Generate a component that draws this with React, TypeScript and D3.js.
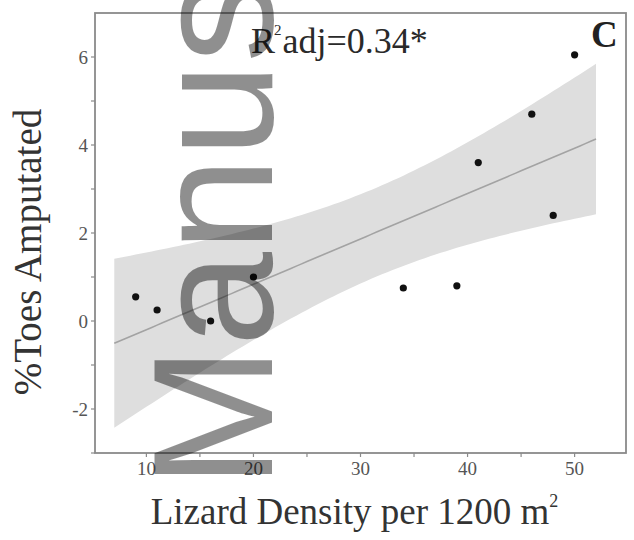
import * as d3 from "d3";

// lizard density per 1200 m^2 (x) and % toes amputated (y)
const density = [9, 11, 16, 20, 34, 39, 41, 46, 48, 50];
const toesAmputated = [0.55, 0.25, 0.0, 1.0, 0.75, 0.8, 3.6, 4.7, 2.4, 6.05];

const xTicks = [10, 20, 30, 40, 50];
const xMinorTicks = [15, 25, 35, 45];
const yTicks = [-2, 0, 2, 4, 6];
const yMinorTicks = [-3, -1, 1, 3, 5];

// fitted line range and t(0.975, df = 8) for the 95% band
const fitRange = [7, 52];
const tCrit = 2.306;

const W = 634;
const H = 540;
const margin = { top: 13, right: 8, bottom: 87, left: 95 };

const serif = "'Liberation Serif', 'DejaVu Serif', serif";

function linearFit(xs: number[], ys: number[]) {
  const n = xs.length;
  const mx = d3.mean(xs)!;
  const my = d3.mean(ys)!;
  const sxx = d3.sum(xs, (x) => (x - mx) ** 2);
  const sxy = d3.sum(xs, (x, i) => (x - mx) * (ys[i] - my));
  const slope = sxy / sxx;
  const intercept = my - slope * mx;
  const sse = d3.sum(xs, (x, i) => (ys[i] - (intercept + slope * x)) ** 2);
  const s = Math.sqrt(sse / (n - 2));
  return (x: number) => {
    const fit = intercept + slope * x;
    const half = tCrit * s * Math.sqrt(1 / n + (x - mx) ** 2 / sxx);
    return { x, fit, lo: fit - half, hi: fit + half };
  };
}

export default function App() {
  const x = d3
    .scaleLinear()
    .domain([5.2, 54.8])
    .range([margin.left, W - margin.right]);
  const y = d3
    .scaleLinear()
    .domain([-3.0, 7.0])
    .range([H - margin.bottom, margin.top]);

  const predict = linearFit(density, toesAmputated);
  const grid = d3.range(fitRange[0], fitRange[1] + 0.001, 0.5).map(predict);

  const band = d3
    .area<any>()
    .x((d) => x(d.x))
    .y0((d) => y(d.lo))
    .y1((d) => y(d.hi))(grid);
  const line = d3
    .line<any>()
    .x((d) => x(d.x))
    .y((d) => y(d.fit))(grid);

  const [x0, x1] = x.range();
  const [y0, y1] = y.range();
  const axisColor = "#8a8a8a";
  const labelColor = "#555";

  return (
    <svg
      width={W}
      height={H}
      style={{ position: "absolute", left: 0, top: 0, background: "#fff" }}
    >
      <path d={band!} fill="#dedede" />
      <path d={line!} fill="none" stroke="#a3a3a3" strokeWidth={1.6} />

      {density.map((d, i) => (
        <circle key={i} cx={x(d)} cy={y(toesAmputated[i])} r={3.6} fill="#111" />
      ))}

      {/* frame */}
      <rect
        x={x0}
        y={y1}
        width={x1 - x0}
        height={y0 - y1}
        fill="none"
        stroke={axisColor}
        strokeWidth={1.8}
      />

      {/* y axis */}
      {[...yTicks, ...yMinorTicks].map((t) => (
        <line key={"yt" + t} x1={x0 - 4} x2={x0} y1={y(t)} y2={y(t)} stroke={axisColor} strokeWidth={1.2} />
      ))}
      {yTicks.map((t) => (
        <text
          key={"yl" + t}
          x={x0 - 7}
          y={y(t)}
          dy="0.35em"
          textAnchor="end"
          fontFamily={serif}
          fontSize={19}
          fill={labelColor}
        >
          {t}
        </text>
      ))}

      {/* x axis */}
      {[...xTicks, ...xMinorTicks].map((t) => (
        <line key={"xt" + t} x1={x(t)} x2={x(t)} y1={y0} y2={y0 + 4} stroke={axisColor} strokeWidth={1.2} />
      ))}
      {xTicks.map((t) => (
        <text
          key={"xl" + t}
          x={x(t)}
          y={y0 + 22}
          textAnchor="middle"
          fontFamily={serif}
          fontSize={19}
          fill={labelColor}
        >
          {t}
        </text>
      ))}

      {/* titles */}
      <text
        transform="translate(41, 252) rotate(-90)"
        textAnchor="middle"
        fontFamily={serif}
        fontSize={39}
        fill="#333"
      >
        %Toes Amputated
      </text>
      <text
        x={(x0 + x1) / 2 - 6}
        y={524}
        textAnchor="middle"
        fontFamily={serif}
        fontSize={37}
        fill="#333"
      >
        Lizard Density per 1200 m
        <tspan fontSize={18} dy={-17}>
          2
        </tspan>
      </text>

      <text x={251} y={53} fontFamily={serif} fontSize={36} fill="#2a2a2a">
        R
        <tspan fontSize={15} dy={-18} dx={-1}>
          2
        </tspan>
        <tspan dy={18} dx={1}>adj=0.34*</tspan>
      </text>
      <text x={591} y={47} fontFamily={serif} fontSize={37} fontWeight="bold" fill="#222">
        C
      </text>

      {/* manuscript watermark */}
      <text
        transform="translate(272, 488) rotate(-90)"
        fontFamily="'Liberation Sans', Arial, sans-serif"
        fontSize={170}
        fill="#000"
        fillOpacity={0.44}
      >
        Manus
      </text>
    </svg>
  );
}
